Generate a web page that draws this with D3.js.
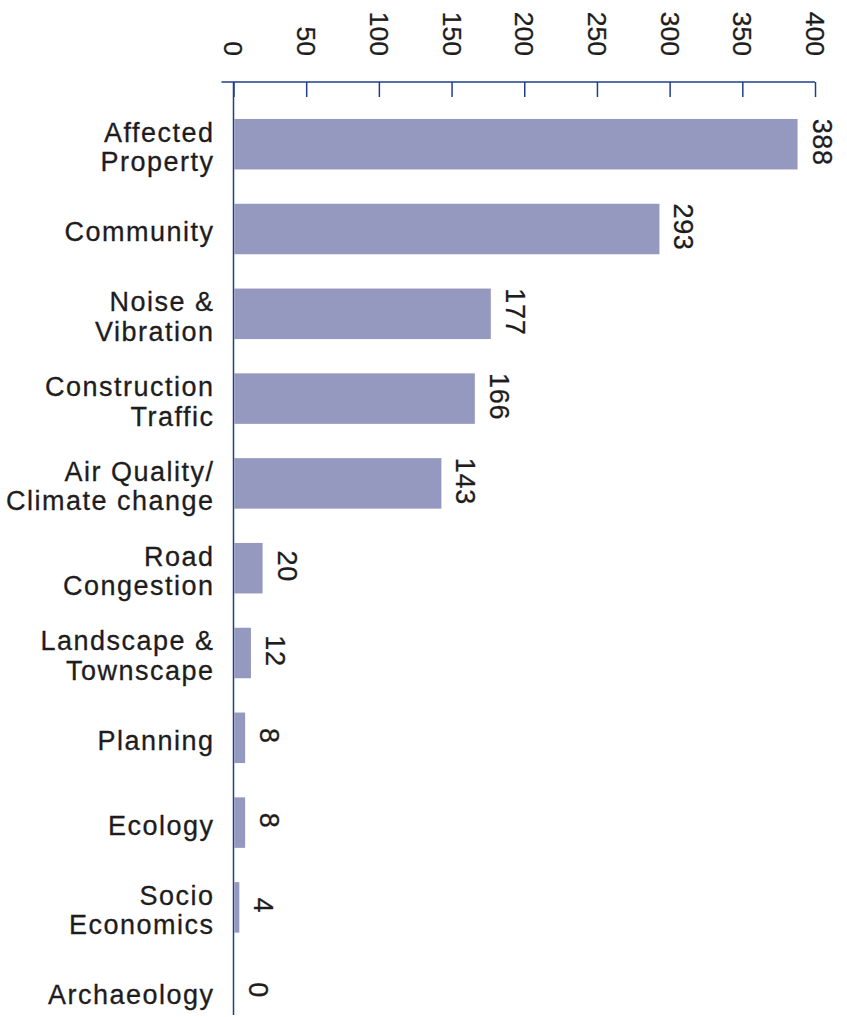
<!DOCTYPE html>
<html>
<head>
<meta charset="utf-8">
<script src="https://cdn.jsdelivr.net/npm/d3@7"></script>
<style>
  html, body { margin: 0; padding: 0; background: #fff; }
  svg { display: block; }
</style>
</head>
<body>
<svg id="chart" width="847" height="1017"></svg>
<script>
// Comment topics and number of responses
const categories = [
  "Affected\nProperty",
  "Community",
  "Noise &\nVibration",
  "Construction\nTraffic",
  "Air Quality/\nClimate change",
  "Road\nCongestion",
  "Landscape &\nTownscape",
  "Planning",
  "Ecology",
  "Socio\nEconomics",
  "Archaeology"
];
const counts = [388, 293, 177, 166, 143, 20, 12, 8, 8, 4, 0];
const tickValues = [0, 50, 100, 150, 200, 250, 300, 350, 400];

const barColor = "#9598bf";
const axisColor = "#1f3f8c";
const textColor = "#1e1c1d";
const font = "'Liberation Sans', Arial, Helvetica, sans-serif";

const svg = d3.select("#chart");

const x = d3.scaleLinear().domain([0, 400]).range([233.5, 815]);
const y = d3.scaleBand()
  .domain(d3.range(categories.length))
  .range([102, 1034.4])
  .paddingInner(0.4045)
  .paddingOuter(0.2);

const axisY = 82;

// Top value axis: ticks hang down from the axis line, labels turned on their side
const axis = d3.axisBottom(x)
  .tickValues(tickValues)
  .tickSize(15)
  .tickSizeOuter(0)
  .tickFormat(d3.format("d"));

const gAxis = svg.append("g")
  .attr("transform", `translate(0,${axisY})`)
  .call(axis);

gAxis.select(".domain").remove();
gAxis.selectAll(".tick line")
  .attr("stroke", axisColor)
  .attr("stroke-width", 1.5);
gAxis.selectAll(".tick text")
  .attr("fill", textColor)
  .attr("stroke", textColor)
  .attr("stroke-width", 0.3)
  .attr("font-family", font)
  .attr("font-size", 26.5)
  .attr("x", 0)
  .attr("y", 0)
  .attr("dy", "0.36em")
  .attr("text-anchor", "end")
  .attr("transform", `translate(0,${56 - axisY}) rotate(90)`);

// Axis lines
svg.append("line")
  .attr("x1", x(0) - 12).attr("x2", x(400))
  .attr("y1", axisY).attr("y2", axisY)
  .attr("stroke", axisColor).attr("stroke-width", 1.5);

svg.append("line")
  .attr("x1", x(0)).attr("x2", x(0))
  .attr("y1", axisY).attr("y2", 1015)
  .attr("stroke", axisColor).attr("stroke-width", 1.5);

// Bars
svg.append("g")
  .selectAll("rect")
  .data(counts)
  .join("rect")
  .attr("x", x(0) + 0.75)
  .attr("y", (d, i) => y(i))
  .attr("width", d => Math.max(0, x(d) - x(0) - 0.75))
  .attr("height", y.bandwidth())
  .attr("fill", barColor);

// Value labels, turned to read downwards and centred on each bar
svg.append("g")
  .selectAll("text")
  .data(counts)
  .join("text")
  .attr("transform", (d, i) => `translate(${x(d) + 15},${y(i) + y.bandwidth() / 2 - 2}) rotate(90)`)
  .attr("text-anchor", "middle")
  .attr("font-family", font)
  .attr("font-size", 27)
  .attr("letter-spacing", 0.7)
  .attr("fill", textColor)
  .attr("stroke", textColor)
  .attr("stroke-width", 0.3)
  .text(d => d);

// Category labels, right aligned against the axis
const lineHeight = 29.5;
const capHalf = 9.7;
const labels = svg.append("g")
  .selectAll("text")
  .data(categories)
  .join("text")
  .attr("text-anchor", "end")
  .attr("font-family", font)
  .attr("font-size", 27)
  .attr("letter-spacing", 1.5)
  .attr("fill", textColor)
  .attr("stroke", textColor)
  .attr("stroke-width", 0.3);

labels.each(function(d, i) {
  const lines = d.split("\n");
  const center = y(i) + y.bandwidth() / 2 + 2.5;
  const firstBase = center - (lines.length - 1) * lineHeight / 2 + capHalf;
  d3.select(this).selectAll("tspan")
    .data(lines)
    .join("tspan")
    .attr("x", 214.5)
    .attr("y", (t, k) => firstBase + k * lineHeight)
    .text(t => t);
});
</script>
</body>
</html>
